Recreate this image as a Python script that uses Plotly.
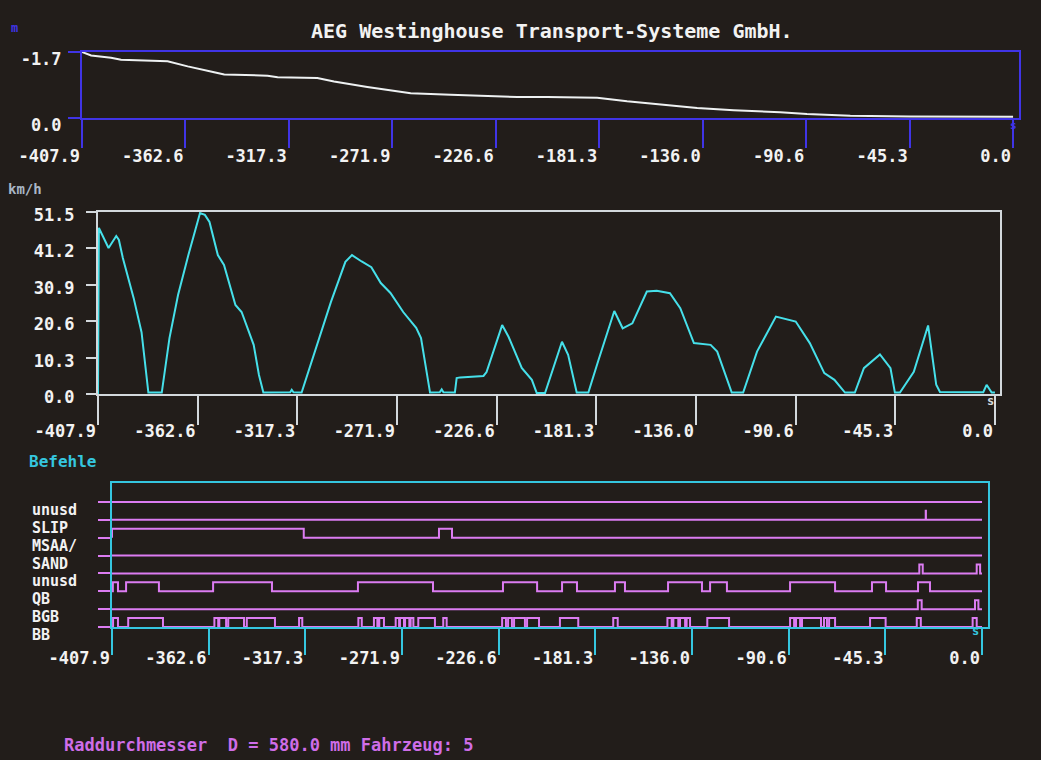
import plotly.graph_objects as go

# ---------------- data ----------------
x_ticks = [-407.9, -362.6, -317.3, -271.9, -226.6, -181.3, -136.0, -90.6, -45.3, 0.0]
x_tick_text = ["-407.9", "-362.6", "-317.3", "-271.9", "-226.6", "-181.3",
               "-136.0", "-90.6", "-45.3", "0.0"]

# height profile (m)
height_x = [-407.9, -403.9, -395.2, -390.8, -370.4, -361.6, -350.0, -345.6, -326.6,
            -322.2, -304.8, -297.5, -282.9, -271.2, -263.9, -246.4, -239.1, -217.2,
            -204.1, -182.2, -169.1, -153.1, -138.4, -122.4, -102.0, -90.3, -71.3,
            -45.1, 0.0]
height_m = [-1.70, -1.61, -1.55, -1.50, -1.46, -1.33, -1.18, -1.12, -1.09,
            -1.05, -1.03, -0.94, -0.80, -0.70, -0.64, -0.60, -0.58, -0.54,
            -0.54, -0.52, -0.43, -0.34, -0.26, -0.20, -0.15, -0.10, -0.06,
            -0.04, -0.03]
height_ticks = [-1.7, 0.0]

# speed (km/h)
speed_x = [-407.9, -407.5, -403.1, -399.6, -398.4, -396.6, -391.7, -388.1, -385.0,
           -378.9, -375.4, -371.5, -366.8, -363.2, -361.5, -359.3, -357.2, -353.4,
           -350.6, -345.4, -342.6, -337.1, -334.7, -332.7, -325.0, -320.5, -319.8,
           -319.0, -315.3, -308.6, -302.0, -295.4, -292.4, -288.0, -283.6, -279.3,
           -274.9, -269.1, -263.2, -261.0, -259.0, -256.9, -252.5, -251.6, -250.8,
           -245.6, -244.8, -243.2, -232.6, -231.2, -224.1, -221.2, -215.2, -210.6,
           -208.4, -204.6, -196.9, -194.1, -190.2, -184.9, -180.5, -173.1, -169.3,
           -164.9, -158.3, -153.8, -147.8, -143.1, -136.9, -129.3, -126.3, -119.7,
           -114.5, -108.2, -99.6, -90.6, -84.2, -77.6, -73.0, -68.2, -63.7, -59.6,
           -52.3, -47.5, -45.5, -43.2, -36.9, -30.4, -26.7, -25.0, -5.3, -3.8,
           -1.5, 0.0]
speed_kmh = [0.0, 47.0, 41.3, 44.7, 43.6, 38.5, 27.2, 17.5, 0.4,
             0.4, 15.8, 28.0, 39.3, 47.8, 51.2, 50.7, 48.7, 39.3,
             36.5, 25.2, 23.2, 13.9, 5.4, 0.4, 0.5, 0.5, 1.2,
             0.5, 0.4, 13.0, 26.0, 37.4, 39.3, 37.5, 35.9, 31.4,
             28.6, 23.2, 18.7, 15.8, 8.2, 0.4, 0.5, 1.3, 0.5,
             0.4, 4.5, 4.7, 5.1, 6.2, 19.5, 16.2, 7.4, 4.0,
             0.3, 0.3, 14.8, 11.1, 0.4, 0.4, 9.2, 23.5, 18.6,
             20.0, 29.0, 29.2, 28.5, 24.3, 14.4, 13.9, 12.0, 0.4,
             0.4, 12.0, 21.9, 20.5, 14.4, 5.9, 4.0, 0.4, 0.4, 7.3,
             11.2, 7.3, 0.4, 0.4, 6.3, 19.4, 2.6, 0.6, 0.5, 2.6,
             0.4, 0.4]
speed_ticks = [0.0, 10.3, 20.6, 30.9, 41.2, 51.5]
speed_tick_text = ["0.0", "10.3", "20.6", "30.9", "41.2", "51.5"]

# commands (Befehle): intervals where each signal is high
signal_names = ["unusd", "SLIP", "MSAA/", "SAND", "unusd", "QB", "BGB", "BB"]
unusd_a_on = []
slip_on = [(-26.4, -26.3)]
msaa_on = [(-407.9, -318.0), (-254.6, -248.5)]
sand_on = []
unusd_b_on = [(-29.4, -27.8), (-2.5, -0.9)]
qb_on = [(-407.5, -405.1), (-401.3, -385.9), (-360.5, -332.9), (-292.6, -257.4),
         (-224.6, -208.6), (-196.9, -189.9), (-172.1, -167.4), (-147.2, -131.3),
         (-127.5, -119.6), (-90.0, -68.9), (-51.6, -45.0), (-30.0, -24.4)]
bgb_on = [(-30.1, -28.3), (-3.3, -1.7)]
bb_on = [(-407.4, -405.1), (-400.3, -384.0), (-359.9, -358.1), (-357.6, -354.4),
         (-353.4, -346.0), (-344.7, -331.5), (-320.2, -318.7), (-292.4, -290.8),
         (-285.1, -283.5), (-282.6, -280.4), (-274.9, -273.3), (-272.9, -271.0),
         (-270.5, -268.5), (-267.9, -266.6), (-264.3, -256.5), (-252.6, -251.0),
         (-225.0, -223.2), (-222.2, -220.4), (-219.4, -214.3), (-213.3, -207.7),
         (-197.9, -189.3), (-172.9, -170.8), (-147.5, -145.5), (-144.7, -142.4),
         (-141.6, -139.2), (-138.5, -136.9), (-128.8, -118.6), (-90.0, -88.1),
         (-87.2, -85.3), (-84.4, -75.5), (-74.1, -72.7), (-71.7, -68.9),
         (-52.5, -45.2), (-30.6, -28.7), (-4.4, -2.5)]
signals_on = [unusd_a_on, slip_on, msaa_on, sand_on, unusd_b_on, qb_on, bgb_on, bb_on]

# ---------------- styling ----------------
W, H = 1041, 760
BG = "#221d1a"
BLUE = "#4034e6"
WHITE = "#eef1f2"
GREY = "#d3d8dc"
CYAN_TR = "#46e0ea"
CYAN_AX = "#35c6df"
MAGENTA = "#dc7cf2"
TXT = "#f2f2f2"
MONO = "DejaVu Sans Mono"


def font(size, color=TXT):
    return dict(family=MONO, size=size, color=color, weight="bold")


def px_x(x):
    return x / W


def px_y(y):
    return (H - y) / H


fig = go.Figure()

# height profile
fig.add_trace(go.Scatter(x=height_x, y=height_m, mode="lines",
                         line=dict(color=WHITE, width=2), xaxis="x", yaxis="y",
                         showlegend=False, hoverinfo="skip"))
# speed
fig.add_trace(go.Scatter(x=speed_x, y=speed_kmh, mode="lines",
                         line=dict(color=CYAN_TR, width=2), xaxis="x2", yaxis="y2",
                         showlegend=False, hoverinfo="skip"))

# command signals
X_START, X_END, HIGH = -407.9, 0.0, 0.5
for i, on in enumerate(signals_on):
    base = len(signals_on) - 1 - i
    xs, ys = [X_START], [base]
    for a, b in on:
        xs += [a, a, b, b]
        ys += [base, base + HIGH, base + HIGH, base]
    xs.append(X_END)
    ys.append(base)
    fig.add_trace(go.Scatter(x=xs, y=ys, mode="lines",
                             line=dict(color=MAGENTA, width=2), xaxis="x3", yaxis="y3",
                             showlegend=False, hoverinfo="skip"))

common_x = dict(showgrid=False, zeroline=False, showline=True, mirror=True,
                linewidth=2, ticks="outside", tickwidth=2, automargin=False,
                tickvals=x_ticks, ticktext=x_tick_text,
                ticklabelposition="outside left", tickfont=font(17),
                layer="below traces")
common_y = dict(showgrid=False, zeroline=False, showline=True, mirror=True,
                linewidth=2, ticks="outside", tickwidth=2, automargin=False)

fig.update_layout(
    width=W, height=H, margin=dict(l=0, r=0, t=0, b=0, autoexpand=False),
    paper_bgcolor=BG, plot_bgcolor=BG, showlegend=False,
    xaxis=dict(**common_x, domain=[px_x(82), px_x(1019)], range=[-407.9, 2.6],
               linecolor=BLUE, tickcolor=BLUE, ticklen=28, anchor="y",
               ticklabelstandoff=22),
    yaxis=dict(**common_y, domain=[px_y(118), px_y(52)], range=[0, -1.7], anchor="x",
               linecolor=BLUE, ticklen=12,
               tickcolor=BLUE, tickvals=height_ticks, ticktext=["-1.7", "0.0"],
               ticklabelposition="outside", ticklabelshift=-7, tickfont=font(17),
               ticklabelstandoff=3),
    xaxis2=dict(**common_x, domain=[px_x(98), px_x(1000)], range=[-407.9, 2.3],
                linecolor=GREY, tickcolor=GREY, ticklen=29, anchor="y2",
                ticklabelstandoff=21),
    yaxis2=dict(**common_y, domain=[px_y(394), px_y(212)], range=[0, 51.5], anchor="x2",
                linecolor=GREY, ticklen=10,
                tickcolor=GREY, tickvals=speed_ticks, ticktext=speed_tick_text,
                tickfont=font(17), ticklabelstandoff=8, ticklabelshift=3),
    xaxis3=dict(**common_x, domain=[px_x(112), px_x(988)], range=[-407.9, 2.8],
                linecolor=CYAN_AX, tickcolor=CYAN_AX, ticklen=26, anchor="y3",
                ticklabelstandoff=15),
    yaxis3=dict(**common_y, domain=[px_y(627), px_y(483)], range=[0, 8.06], anchor="x3",
                linecolor=CYAN_AX, ticklen=12,
                tickcolor=MAGENTA, tickvals=list(range(8)), showticklabels=False,
                layer="below traces"),
)

ann = []
ann.append(dict(text="AEG Westinghouse Transport-Systeme GmbH.", x=px_x(552), y=px_y(31),
                xref="paper", yref="paper", xanchor="center", yanchor="middle",
                showarrow=False, font=font(20)))
ann.append(dict(text="m", x=px_x(9), y=px_y(28), xref="paper", yref="paper",
                xanchor="left", yanchor="middle", showarrow=False, font=font(12, BLUE)))
ann.append(dict(text="km/h", x=px_x(6), y=px_y(189), xref="paper", yref="paper",
                xanchor="left", yanchor="middle", showarrow=False,
                font=font(14, "#a9b7c6")))
ann.append(dict(text="Befehle", x=px_x(27), y=px_y(461), xref="paper", yref="paper",
                xanchor="left", yanchor="middle", showarrow=False,
                font=font(16, CYAN_AX)))
ann.append(dict(text="s", x=px_x(1013), y=px_y(126), xref="paper", yref="paper",
                xanchor="center", yanchor="middle", showarrow=False,
                font=font(11, BLUE)))
ann.append(dict(text="s", x=px_x(990), y=px_y(401), xref="paper", yref="paper",
                xanchor="center", yanchor="middle", showarrow=False,
                font=font(12, GREY)))
ann.append(dict(text="s", x=px_x(975), y=px_y(631), xref="paper", yref="paper",
                xanchor="center", yanchor="middle", showarrow=False,
                font=font(12, CYAN_AX)))
for i, name in enumerate(signal_names):
    ann.append(dict(text=name, x=px_x(30), y=len(signal_names) - 1 - i,
                    xref="paper", yref="y3", xanchor="left", yanchor="top",
                    showarrow=False, font=font(15), yshift=3))
ann.append(dict(text="Raddurchmesser\u00a0 D = 580.0 mm Fahrzeug: 5",
                x=px_x(62), y=px_y(745), xref="paper", yref="paper",
                xanchor="left", yanchor="middle", showarrow=False,
                font=font(17, "#cf6de8")))
fig.update_layout(annotations=ann)

fig.write_html("out.html", post_script="document.body.style.margin='0';",
               config={"displayModeBar": False})
